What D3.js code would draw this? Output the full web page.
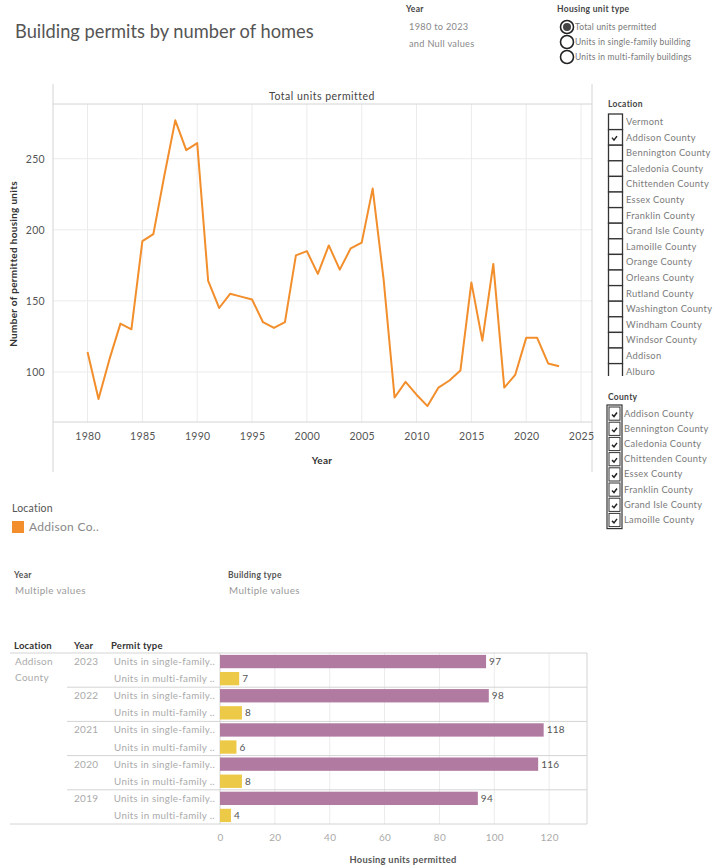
<!DOCTYPE html>
<html>
<head>
<meta charset="utf-8">
<script src="https://cdn.jsdelivr.net/npm/d3@7"></script>
<style>
  html, body { margin: 0; padding: 0; background: #fff; }
  svg { display: block; font-family: Lato, "Open Sans", sans-serif; }
</style>
</head>
<body>
<svg id="chart" width="723" height="867"></svg>
<script>
// ---- data ----
const years = [1980,1981,1982,1983,1984,1985,1986,1987,1988,1989,
               1990,1991,1992,1993,1994,1995,1996,1997,1998,1999,
               2000,2001,2002,2003,2004,2005,2006,2007,2008,2009,
               2010,2011,2012,2013,2014,2015,2016,2017,2018,2019,
               2020,2021,2022,2023];
const totalUnits = [114,81,109,134,130,192,197,238,277,256,
                    261,164,145,155,153,151,135,131,135,182,
                    185,169,189,172,187,191,229,165,82,93,
                    84,76,89,94,101,163,122,176,89,98,
                    124,124,106,104];
const yearTicks = [1980,1985,1990,1995,2000,2005,2010,2015,2020,2025];
const unitTicks = [100,150,200,250];

const locationList = ["Vermont","Addison County","Bennington County","Caledonia County",
  "Chittenden County","Essex County","Franklin County","Grand Isle County","Lamoille County",
  "Orange County","Orleans County","Rutland County","Washington County","Windham County",
  "Windsor County","Addison","Alburo"];
const locationChecked = ["Addison County"];
const countyList = ["Addison County","Bennington County","Caledonia County","Chittenden County",
  "Essex County","Franklin County","Grand Isle County","Lamoille County"];
const unitTypes = ["Total units permitted","Units in single-family building","Units in multi-family buildings"];

const barYears = ["2023","2022","2021","2020","2019"];
const singleFamily = [97,98,118,116,94];
const multiFamily = [7,8,6,8,4];
const permitTypes = ["Units in single-family..","Units in multi-family .."];
const barTicks = [0,20,40,60,80,100,120];

const svg = d3.select("#chart");
const ORANGE = "#f28e2b", PURPLE = "#b07aa1", YELLOW = "#edc948";
const GRID = "#ebebeb", AXIS = "#d4d4d4";

// small helper for plain text labels
function label(parent, x, y, txt, size, opts = {}) {
  return parent.append("text").attr("x", x).attr("y", y)
    .attr("font-size", size)
    .attr("font-weight", opts.bold ? "bold" : null)
    .attr("fill", opts.fill || "#777")
    .attr("letter-spacing", opts.ls != null ? opts.ls : 0.3)
    .attr("text-anchor", opts.anchor || null)
    .text(txt);
}

// ---- title & filters ----
svg.append("text").attr("x", 15).attr("y", 38).attr("font-size", 18.3)
  .attr("fill", "#555").text("Building permits by number of homes");

label(svg, 406, 12, "Year", 8.5, { bold: true, fill: "#444" });
label(svg, 409, 30, "1980 to 2023", 9.2, { fill: "#888" });
label(svg, 409, 47, "and Null values", 9.2, { fill: "#888" });

label(svg, 557, 12, "Housing unit type", 8.5, { bold: true, fill: "#444" });
const radios = svg.append("g");
unitTypes.forEach((t, i) => {
  const cy = 27 + i * 15;
  radios.append("circle").attr("cx", 567).attr("cy", cy).attr("r", 6.5)
    .attr("fill", "#fff").attr("stroke", "#222").attr("stroke-width", 1.6);
  if (i === 0) radios.append("circle").attr("cx", 567).attr("cy", cy).attr("r", 4)
    .attr("fill", "#444");
  label(radios, 575, cy + 3, t, 8.5, { fill: "#777", ls: 0.2 });
});

// ---- line chart ----
const x = d3.scaleLinear().domain([1976.85, 2026.0]).range([53, 592]);
const y = d3.scaleLinear().domain([64.8, 288.5]).range([422, 104]);

const lc = svg.append("g");
// grid
lc.selectAll(".vg").data(yearTicks).join("line")
  .attr("x1", d => x(d)).attr("x2", d => x(d)).attr("y1", 104).attr("y2", 422)
  .attr("stroke", GRID).attr("stroke-width", 1);
lc.selectAll(".hg").data(unitTicks).join("line")
  .attr("x1", 53).attr("x2", 592).attr("y1", d => y(d)).attr("y2", d => y(d))
  .attr("stroke", GRID).attr("stroke-width", 1);
// frame
lc.append("line").attr("x1", 53).attr("x2", 53).attr("y1", 84).attr("y2", 472).attr("stroke", AXIS);
lc.append("line").attr("x1", 592).attr("x2", 592).attr("y1", 84).attr("y2", 472).attr("stroke", AXIS);
lc.append("line").attr("x1", 53).attr("x2", 592).attr("y1", 104).attr("y2", 104).attr("stroke", AXIS);
lc.append("line").attr("x1", 53).attr("x2", 592).attr("y1", 422).attr("y2", 422).attr("stroke", AXIS);
label(lc, 322, 100, "Total units permitted", 10.5, { fill: "#444", anchor: "middle", ls: 0.5 });

// axes via d3
const xAxis = d3.axisBottom(x).tickValues(yearTicks).tickFormat(d3.format("d")).tickSize(0).tickPadding(11);
const gx = lc.append("g").attr("transform", "translate(0,422)").call(xAxis);
gx.select(".domain").remove();
gx.selectAll("text").attr("font-size", 10.5).attr("fill", "#555")
  .attr("letter-spacing", 0.3).attr("font-family", "Lato, sans-serif");

const yAxis = d3.axisLeft(y).tickValues(unitTicks).tickSize(0).tickPadding(8);
const gy = lc.append("g").attr("transform", "translate(53,0)").call(yAxis);
gy.select(".domain").remove();
gy.selectAll("text").attr("font-size", 10.5).attr("fill", "#555")
  .attr("letter-spacing", 0.3).attr("font-family", "Lato, sans-serif");

label(lc, 322, 464, "Year", 10, { bold: true, fill: "#333", anchor: "middle" });
lc.append("text").attr("transform", "translate(17,264) rotate(-90)").attr("text-anchor", "middle")
  .attr("font-size", 10).attr("font-weight", "bold").attr("fill", "#333").attr("letter-spacing", 0.3)
  .text("Number of permitted housing units");

const line = d3.line().x((d, i) => x(years[i])).y(d => y(d));
lc.append("path").datum(totalUnits).attr("d", line)
  .attr("fill", "none").attr("stroke", ORANGE).attr("stroke-width", 2)
  .attr("stroke-linejoin", "round");

// ---- location list ----
const ll = svg.append("g");
label(ll, 608, 107, "Location", 8.5, { bold: true, fill: "#444" });
const rowH = 15.6, listTop = 114;
ll.append("clipPath").attr("id", "listclip").append("rect")
  .attr("x", 600).attr("y", listTop - 2).attr("width", 123).attr("height", 264);
const lg = ll.append("g").attr("clip-path", "url(#listclip)");
locationList.forEach((name, i) => {
  const top = listTop + i * rowH;
  lg.append("rect").attr("x", 608.5).attr("y", top).attr("width", 14).attr("height", rowH)
    .attr("fill", "#fff").attr("stroke", "#333").attr("stroke-width", 1.3);
  if (locationChecked.includes(name)) {
    lg.append("path").attr("d", `M612,${top + 8} l2,2.5 l3,-4`).attr("fill", "none")
      .attr("stroke", "#222").attr("stroke-width", 1.5);
  }
  label(lg, 626, top + 11, name, 9.3, { fill: "#7a7a7a" });
});

// ---- county list ----
const cl = svg.append("g");
label(cl, 608, 400, "County", 8.5, { bold: true, fill: "#444" });
const cTop = 406, cRow = 15.2;
cl.append("rect").attr("x", 607).attr("y", cTop - 1).attr("width", 15).attr("height", countyList.length * cRow + 2)
  .attr("fill", "none").attr("stroke", "#333").attr("stroke-width", 1.2);
countyList.forEach((name, i) => {
  const top = cTop + i * cRow;
  cl.append("rect").attr("x", 609).attr("y", top + 1).attr("width", 11).attr("height", cRow - 2)
    .attr("fill", "#fff").attr("stroke", "#333").attr("stroke-width", 1);
  cl.append("path").attr("d", `M612,${top + 8.5} l2,2 l3,-4`).attr("fill", "none")
    .attr("stroke", "#222").attr("stroke-width", 1.5);
  label(cl, 624, top + 10.5, name, 9.3, { fill: "#7a7a7a" });
});

// ---- colour legend ----
label(svg, 12, 512, "Location", 10.5, { fill: "#555", ls: 0.2 });
svg.append("rect").attr("x", 12).attr("y", 521).attr("width", 12).attr("height", 12).attr("fill", ORANGE);
label(svg, 29, 531, "Addison Co..", 12, { fill: "#888", ls: 0.3 });

label(svg, 14, 578, "Year", 8.5, { bold: true, fill: "#555" });
label(svg, 15, 594, "Multiple values", 9.8, { fill: "#999", ls: 0.4 });
label(svg, 228, 578, "Building type", 8.5, { bold: true, fill: "#555" });
label(svg, 229, 594, "Multiple values", 9.8, { fill: "#999", ls: 0.4 });

// ---- bar table ----
const bx = d3.scaleLinear().domain([0, 133.8]).range([220, 587]);
const rows = [];
barYears.forEach((yr, gi) => {
  rows.push({ year: yr, type: permitTypes[0], value: singleFamily[gi], color: PURPLE, first: true });
  rows.push({ year: yr, type: permitTypes[1], value: multiFamily[gi], color: YELLOW, first: false });
});
const by = d3.scaleBand().domain(d3.range(rows.length)).range([653, 824]).paddingInner(0.22).paddingOuter(0.11);

const bt = svg.append("g");
label(bt, 14, 649, "Location", 9.5, { bold: true, fill: "#333", ls: 0.2 });
label(bt, 74, 649, "Year", 9.5, { bold: true, fill: "#333", ls: 0.2 });
label(bt, 111, 649, "Permit type", 9.5, { bold: true, fill: "#333", ls: 0.2 });

// vertical grid
bt.selectAll(".bg").data(barTicks.slice(1)).join("line")
  .attr("x1", d => bx(d)).attr("x2", d => bx(d)).attr("y1", 653).attr("y2", 824)
  .attr("stroke", GRID);
bt.append("line").attr("x1", 220).attr("x2", 220).attr("y1", 653).attr("y2", 824).attr("stroke", AXIS);
bt.append("line").attr("x1", 587).attr("x2", 587).attr("y1", 653).attr("y2", 824).attr("stroke", AXIS);
bt.append("line").attr("x1", 10).attr("x2", 587).attr("y1", 653).attr("y2", 653).attr("stroke", AXIS);
bt.append("line").attr("x1", 10).attr("x2", 587).attr("y1", 824).attr("y2", 824).attr("stroke", AXIS);
// group separators
const groupH = (824 - 653) / barYears.length;
barYears.slice(1).forEach((yr, i) => {
  const yy = 653 + (i + 1) * groupH;
  bt.append("line").attr("x1", 67).attr("x2", 587).attr("y1", yy).attr("y2", yy).attr("stroke", AXIS);
});

label(bt, 15, 665, "Addison", 10, { fill: "#aaa" });
label(bt, 15, 681, "County", 10, { fill: "#aaa" });

rows.forEach((r, i) => {
  const top = by(i), h = by.bandwidth(), cy = top + h / 2;
  if (r.first) label(bt, 74, cy + 3.5, r.year, 10, { fill: "#aaa" });
  label(bt, 215, cy + 3.5, r.type, 9.8, { fill: "#aaa", anchor: "end" });
  bt.append("rect").attr("x", bx(0)).attr("y", top).attr("width", bx(r.value) - bx(0)).attr("height", h)
    .attr("fill", r.color);
  label(bt, bx(r.value) + 3, cy + 3.5, r.value, 10, { fill: "#555" });
});

const bAxis = d3.axisBottom(bx).tickValues(barTicks).tickSize(0).tickPadding(10);
const gb = bt.append("g").attr("transform", "translate(0,824)").call(bAxis);
gb.select(".domain").remove();
gb.selectAll("text").attr("font-size", 10).attr("fill", "#aaa")
  .attr("letter-spacing", 0.3).attr("font-family", "Lato, sans-serif");
label(bt, 403, 863, "Housing units permitted", 9.3, { bold: true, fill: "#555", anchor: "middle" });
</script>
</body>
</html>
